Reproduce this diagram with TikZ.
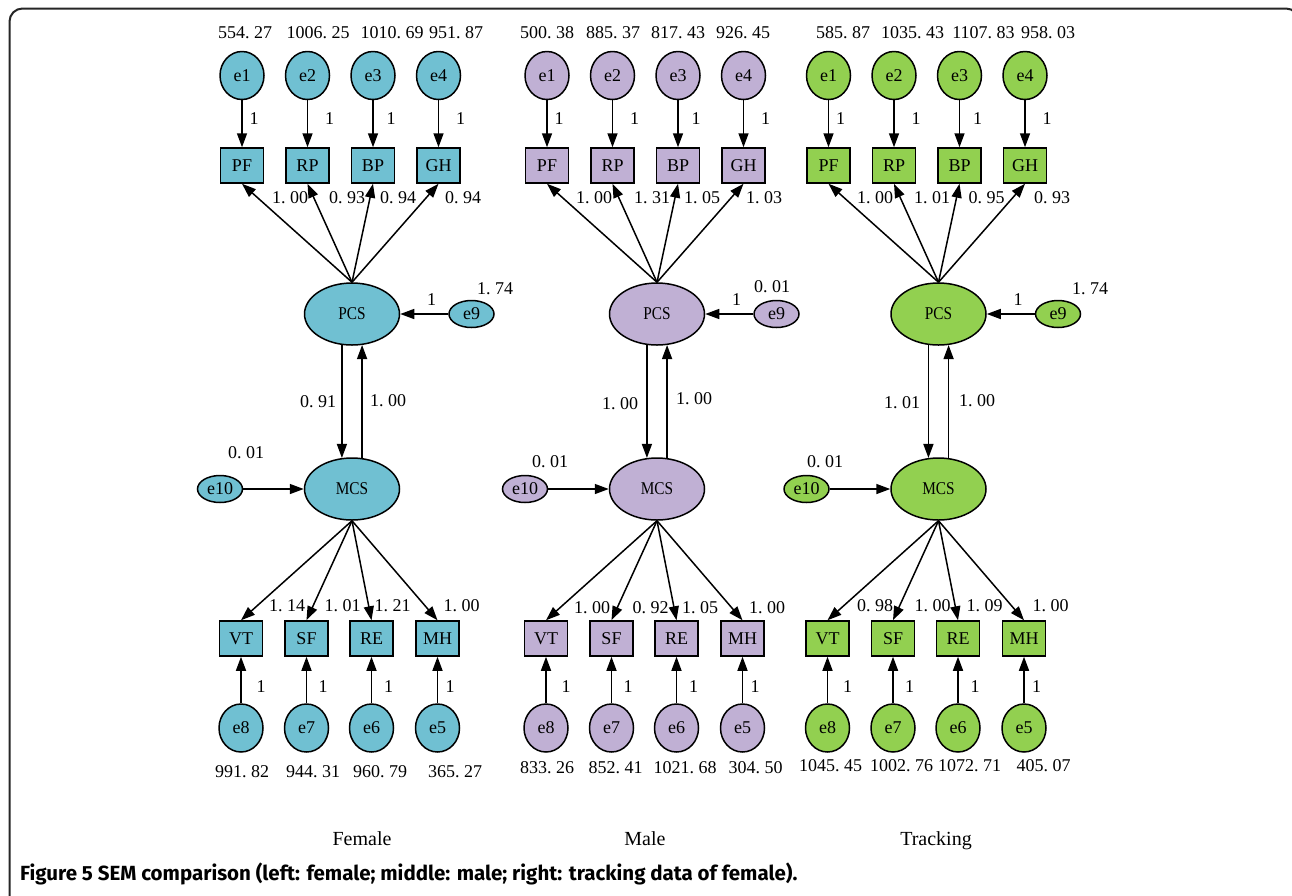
\documentclass[tikz,border=0pt]{standalone}
\usepackage{fontspec}
\setmainfont{Liberation Serif}
\newfontfamily\narrowfont[FakeStretch=0.85]{Liberation Serif}
\newfontfamily\capfont{Fira Sans}
\usetikzlibrary{shapes.geometric,arrows.meta}
\definecolor{cblue}{RGB}{112,192,210}
\definecolor{cpurple}{RGB}{192,176,212}
\definecolor{cgreen}{RGB}{146,208,80}
\newcommand\nm[2]{#1.\hspace{0.25em}#2}
\tikzset{
  every node/.style={font=\fontsize{18}{18}\selectfont},
  errc/.style={ellipse, draw, line width=1.5pt, fill=#1, minimum width=44pt, minimum height=48pt, inner sep=0pt},
  obsbox/.style={rectangle, draw, line width=1.5pt, fill=#1, minimum width=43pt, minimum height=35pt, inner sep=0pt},
  latent/.style={ellipse, draw, line width=1.5pt, fill=#1, minimum width=95pt, minimum height=62pt, inner sep=0pt, font=\narrowfont\fontsize{18}{18}\selectfont},
  serr/.style={ellipse, draw, line width=1.5pt, fill=#1, minimum width=45pt, minimum height=27pt, inner sep=0pt},
  arr/.style={line width=1.5pt, -{Triangle[length=14pt,width=10pt]}},
  lbl/.style={inner sep=0pt},
  ttl/.style={inner sep=0pt, anchor=base, font=\fontsize{20}{20}\selectfont},
}
\newcommand\sempanel[3]{%
\begin{scope}[xshift=#2pt]
  \node[errc=#3] (#1e1) at (242,75.5) {e1};
  \node[errc=#3] (#1e2) at (307.5,75.5) {e2};
  \node[errc=#3] (#1e3) at (373,75.5) {e3};
  \node[errc=#3] (#1e4) at (438.5,75.5) {e4};
  \node[obsbox=#3] (#1PF) at (242,165.5) {PF};
  \node[obsbox=#3] (#1RP) at (307.5,165.5) {RP};
  \node[obsbox=#3] (#1BP) at (373,165.5) {BP};
  \node[obsbox=#3] (#1GH) at (438.5,165.5) {GH};
  \node[latent=#3] (#1PCS) at (352,314) {PCS};
  \node[serr=#3] (#1e9) at (471.5,314) {e9};
  \node[latent=#3] (#1MCS) at (352,489) {MCS};
  \node[serr=#3] (#1e10) at (220,489) {e10};
  \node[obsbox=#3] (#1VT) at (241,638.5) {VT};
  \node[obsbox=#3] (#1SF) at (306.5,638.5) {SF};
  \node[obsbox=#3] (#1RE) at (371.5,638.5) {RE};
  \node[obsbox=#3] (#1MH) at (437.5,638.5) {MH};
  \node[errc=#3] (#1e8) at (241,728) {e8};
  \node[errc=#3] (#1e7) at (306.5,728) {e7};
  \node[errc=#3] (#1e6) at (371.5,728) {e6};
  \node[errc=#3] (#1e5) at (437.5,728) {e5};
  \draw[arr] (#1e1) -- (#1PF);
  \draw[arr] (#1e2) -- (#1RP);
  \draw[arr] (#1e3) -- (#1BP);
  \draw[arr] (#1e4) -- (#1GH);
  \draw[arr] (#1PCS.north) -- (#1PF.south);
  \draw[arr] (#1PCS.north) -- (#1RP.south);
  \draw[arr] (#1PCS.north) -- (#1BP.south);
  \draw[arr] (#1PCS.north) -- (#1GH.south);
  \draw[arr] (#1e9) -- (#1PCS);
  \draw[arr] (#1PCS.252) -- (#1MCS.108);
  \draw[arr] (#1MCS.72) -- (#1PCS.288);
  \draw[arr] (#1e10) -- (#1MCS);
  \draw[arr] (#1MCS.south) -- (#1VT.north);
  \draw[arr] (#1MCS.south) -- (#1SF.north);
  \draw[arr] (#1MCS.south) -- (#1RE.north);
  \draw[arr] (#1MCS.south) -- (#1MH.north);
  \draw[arr] (#1e8) -- (#1VT);
  \draw[arr] (#1e7) -- (#1SF);
  \draw[arr] (#1e6) -- (#1RE);
  \draw[arr] (#1e5) -- (#1MH);
  \node[lbl] (#1o1) at (254,119) {1};
  \node[lbl] (#1o2) at (329.5,119) {1};
  \node[lbl] (#1o3) at (391,119) {1};
  \node[lbl] (#1o4) at (460.5,119) {1};
  \node[lbl] (#1o9) at (431.5,300) {1};
  \node[lbl] (#1o8) at (261,687) {1};
  \node[lbl] (#1o7) at (323,687) {1};
  \node[lbl] (#1o6) at (388.5,687) {1};
  \node[lbl] (#1o5) at (450,687) {1};
\end{scope}}
\begin{document}
\begin{tikzpicture}[x=1pt,y=-1pt]
\useasboundingbox (0,0) rectangle (1292,895);
\fill[white] (0,0) rectangle (1292,895);
\clip (0,0) rectangle (1292,895);
\draw[line width=2pt, rounded corners=13pt, black!85] (9.5,8.5) rectangle (1299,930);

\sempanel{f}{0}{cblue}
\sempanel{m}{305}{cpurple}
\sempanel{t}{586.5}{cgreen}

% Female labels
\node[lbl] (fv1) at (245,33) {\nm{554}{27}};
\node[lbl] (fv2) at (318,33) {\nm{1006}{25}};
\node[lbl] (fv3) at (392,33) {\nm{1010}{69}};
\node[lbl] (fv4) at (456,33) {\nm{951}{87}};
\node[lbl] (fl1) at (290,198) {\nm{1}{00}};
\node[lbl] (fl2) at (347,198) {\nm{0}{93}};
\node[lbl] (fl3) at (398,198) {\nm{0}{94}};
\node[lbl] (fl4) at (463,198) {\nm{0}{94}};
\node[lbl] (fv9) at (495,289) {\nm{1}{74}};
\node[lbl] (fpm) at (318,402) {\nm{0}{91}};
\node[lbl] (fmp) at (388,401) {\nm{1}{00}};
\node[lbl] (fv10) at (246,453) {\nm{0}{01}};
\node[lbl] (fl8) at (287,606) {\nm{1}{14}};
\node[lbl] (fl7) at (342.5,606) {\nm{1}{01}};
\node[lbl] (fl6) at (392.5,606) {\nm{1}{21}};
\node[lbl] (fl5) at (461.5,606) {\nm{1}{00}};
\node[lbl] (fv8) at (242,772) {\nm{991}{82}};
\node[lbl] (fv7) at (313,772) {\nm{944}{31}};
\node[lbl] (fv6) at (380,772) {\nm{960}{79}};
\node[lbl] (fv5) at (455,772) {\nm{365}{27}};

% Male labels
\node[lbl] (mv1) at (547,33) {\nm{500}{38}};
\node[lbl] (mv2) at (613,33) {\nm{885}{37}};
\node[lbl] (mv3) at (678,33) {\nm{817}{43}};
\node[lbl] (mv4) at (743,33) {\nm{926}{45}};
\node[lbl] (ml1) at (594,198) {\nm{1}{00}};
\node[lbl] (ml2) at (652,198) {\nm{1}{31}};
\node[lbl] (ml3) at (702,198) {\nm{1}{05}};
\node[lbl] (ml4) at (764,198) {\nm{1}{03}};
\node[lbl] (mv9) at (772,287) {\nm{0}{01}};
\node[lbl] (mpm) at (620,404) {\nm{1}{00}};
\node[lbl] (mmp) at (694,399) {\nm{1}{00}};
\node[lbl] (mv10) at (550,462) {\nm{0}{01}};
\node[lbl] (ml8) at (592,608) {\nm{1}{00}};
\node[lbl] (ml7) at (650.5,608) {\nm{0}{92}};
\node[lbl] (ml6) at (700,608) {\nm{1}{05}};
\node[lbl] (ml5) at (767,608) {\nm{1}{00}};
\node[lbl] (mv8) at (547,768) {\nm{833}{26}};
\node[lbl] (mv7) at (615.5,768) {\nm{852}{41}};
\node[lbl] (mv6) at (685,768) {\nm{1021}{68}};
\node[lbl] (mv5) at (755.5,768) {\nm{304}{50}};

% Tracking labels
\node[lbl] (tv1) at (843,33) {\nm{585}{87}};
\node[lbl] (tv2) at (912.5,33) {\nm{1035}{43}};
\node[lbl] (tv3) at (983.5,33) {\nm{1107}{83}};
\node[lbl] (tv4) at (1048,33) {\nm{958}{03}};
\node[lbl] (tl1) at (875,198) {\nm{1}{00}};
\node[lbl] (tl2) at (932,198) {\nm{1}{01}};
\node[lbl] (tl3) at (986.5,198) {\nm{0}{95}};
\node[lbl] (tl4) at (1052,198) {\nm{0}{93}};
\node[lbl] (tv9) at (1090,289) {\nm{1}{74}};
\node[lbl] (tpm) at (902,403) {\nm{1}{01}};
\node[lbl] (tmp) at (977,401) {\nm{1}{00}};
\node[lbl] (tv10) at (825,462) {\nm{0}{01}};
\node[lbl] (tl8) at (875,606) {\nm{0}{98}};
\node[lbl] (tl7) at (932.5,606) {\nm{1}{00}};
\node[lbl] (tl6) at (984.5,606) {\nm{1}{09}};
\node[lbl] (tl5) at (1050.5,606) {\nm{1}{00}};
\node[lbl] (tv8) at (830.5,766) {\nm{1045}{45}};
\node[lbl] (tv7) at (901.5,766) {\nm{1002}{76}};
\node[lbl] (tv6) at (969.5,766) {\nm{1072}{71}};
\node[lbl] (tv5) at (1043.5,766) {\nm{405}{07}};

% Titles and caption
\node[ttl] (tf) at (362,845) {Female};
\node[ttl] (tm) at (645,845) {Male};
\node[ttl] (tt) at (936,845) {Tracking};
\node[inner sep=0pt, anchor=base west, font=\capfont\bfseries\fontsize{20.5}{20.5}\selectfont] (cap) at (20,880)
  {Figure 5 SEM comparison (left: female; middle: male; right: tracking data of female).};
\end{tikzpicture}
\end{document}
